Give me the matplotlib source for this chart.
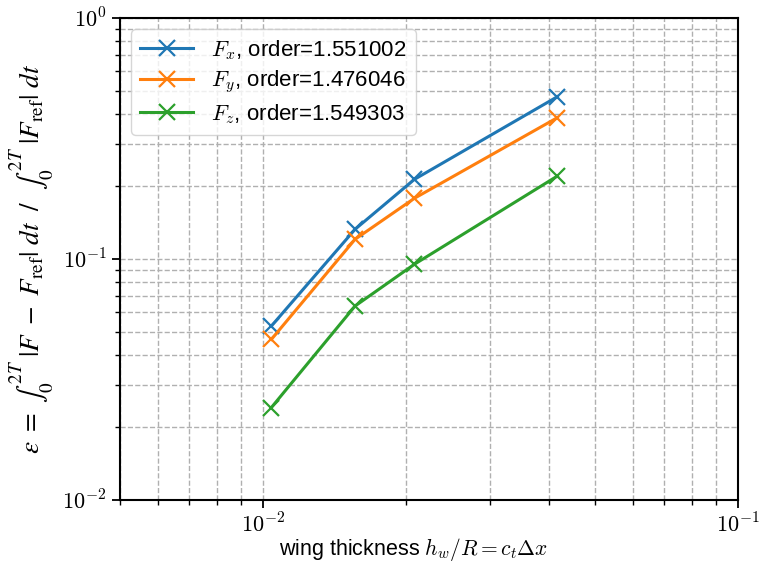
import matplotlib
matplotlib.use("Agg")
import matplotlib.pyplot as plt
from matplotlib.ticker import FuncFormatter
import numpy as np

plt.rcParams['mathtext.fontset'] = 'cm'
plt.rcParams['font.family'] = ['Liberation Sans', 'DejaVu Sans']

thickness = [1/96, 1/64, 1/48, 1/24]
err_fx = [0.0527, 0.1328, 0.214, 0.4716]
err_fy = [0.0464, 0.1207, 0.1786, 0.386]
err_fz = [0.0242, 0.0638, 0.0951, 0.221]
labels = [r'$F_x$, order=1.551002', r'$F_y$, order=1.476046', r'$F_z$, order=1.549303']
colors = ['#1f77b4', '#ff7f0e', '#2ca02c']

fig = plt.figure(figsize=(7.64, 5.68), dpi=100)
ax = fig.add_axes([0.157, 0.1197, 0.809, 0.8486])

for y, lab, c in zip([err_fx, err_fy, err_fz], labels, colors):
    ax.loglog(thickness, y, '-x', color=c, lw=2.2, ms=11, mew=1.6, label=lab)

ax.set_xlim(0.005, 0.1)
ax.set_ylim(0.01, 1.0)
ax.grid(True, which='both', ls='--', color='#b0b0b0', lw=1.0)
ax.set_axisbelow(True)
for s in ax.spines.values():
    s.set_linewidth(1.5)

fmt = FuncFormatter(lambda v, p: r'$10^{%d}$' % int(round(np.log10(v))))
ax.xaxis.set_major_formatter(fmt)
ax.yaxis.set_major_formatter(fmt)
ax.tick_params(which='major', labelsize=16, length=6, width=1.3)
ax.tick_params(which='minor', length=3.5, width=1.0)
ax.set_xlabel(r'wing thickness $h_w/R = c_t\Delta x$', fontsize=15.5, labelpad=2)
ax.xaxis.set_label_coords(0.475, -0.075)
fig.text(0.042, 0.1197 + 0.8486 / 2,
         r'$\epsilon\ =\ \int_0^{2T}\ |F\ -\ F_\mathrm{ref}|\ dt\ \ /\ \ \int_0^{2T}\ |F_\mathrm{ref}|\ dt$',
         fontsize=19.5, rotation=90, ha='center', va='center', math_fontfamily='stix')
ax.legend(loc='upper left', fontsize=16, framealpha=0.8, handlelength=2.4, labelspacing=0.3)

fig.savefig('out.png', dpi=100)
